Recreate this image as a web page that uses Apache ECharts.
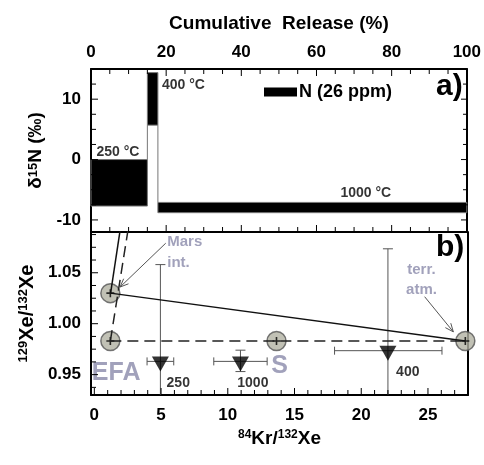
<!DOCTYPE html>
<html>
<head>
<meta charset="utf-8">
<script src="https://cdn.jsdelivr.net/npm/echarts@6/dist/echarts.min.js"></script>
<style>
  html, body { margin: 0; padding: 0; background: #fff; }
  #chart { width: 484px; height: 465px; }
</style>
</head>
<body>
<div id="chart"></div>
<script>
// ---- panel a: stepwise N release ----
const stepTemps = ['250 °C', '400 °C', '1000 °C'];
const releaseStart = [0, 15, 17.8];
const releaseEnd = [15, 17.8, 100];
const d15NLow = [-7.7, 5.7, -8.8];
const d15NHigh = [0, 14.4, -7.1];
// where the temperature labels sit (release %, d15N)
const tempLabelX = [1.6, 19.0, 66.5];
const tempLabelY = [1.1, 12.3, -5.6];

// ---- panel b: Kr/Xe vs 129Xe/132Xe ----
const stepNames = ['250', '1000', '400'];
const krXe = [4.95, 10.95, 22.0];
const krXeLo = [3.95, 8.95, 18.0];
const krXeHi = [5.95, 12.95, 26.05];
const xeRatio = [0.963, 0.963, 0.9735];
const xeRatioLo = [0.868, 0.953, 0.8735];
const xeRatioHi = [1.058, 0.974, 1.0735];
const stepLabelX = [5.45, 10.75, 22.65];
const stepLabelY = [0.9415, 0.9415, 0.952];

// end-members (circles)
const endNames = ['EFA high', 'EFA low', 'S', 'terr. atm.'];
const endKr = [1.2, 1.2, 13.65, 27.8];
const endXe = [1.030, 0.983, 0.983, 0.983];

// steep Mars-interior lines
const marsSolid = [[1.22, 1.030], [1.97, 1.095]];
const marsDashed = [[1.2, 0.983], [2.56, 1.095]];

// tick labels
const topTicks = [0, 20, 40, 60, 80, 100];
const d15NTicks = [-10, 0, 10];
const xeTicks = [0.95, 1.00, 1.05];
const krTicks = [0, 5, 10, 15, 20, 25];

const FONT = 'Liberation Sans, Arial, sans-serif';
const TXT2 = '#8a8aaa';

function range(a, b, s) {
  const out = [];
  for (let v = a; v <= b + 1e-9; v += s) out.push(+v.toFixed(4));
  return out;
}

// tick marks drawn as graphic lines, positions from the chart's own scales
const tickSpecs = [
  // [xAxisIndex, yAxisIndex, side, values, major step]
  [0, 0, 'top', range(0, 100, 5), 20],
  [0, 0, 'bottom', range(5, 95, 5), 20],
  [0, 0, 'left', range(-10, 12.5, 2.5), 10],
  [0, 0, 'right', range(-10, 12.5, 2.5), 10],
  [2, 2, 'bottom', range(0, 27, 1), 5],
  [2, 2, 'left', range(0.9375, 1.0875, 0.0125), 0.05]
];
const gridBox = [
  { left: 91, top: 69, width: 377, height: 163 },
  { left: 91, top: 232, width: 377, height: 163 }
];

const chart = echarts.init(document.getElementById('chart'));

const boxData = stepTemps.map((t, i) => [releaseStart[i], releaseEnd[i], d15NLow[i], d15NHigh[i]]);
const errData = stepNames.map((n, i) => [krXe[i], xeRatio[i], krXeLo[i], krXeHi[i], xeRatioLo[i], xeRatioHi[i]]);
const endData = endNames.map((n, i) => [endKr[i], endXe[i]]);

const lineStyle = { show: true, onZero: false, lineStyle: { color: '#000', width: 2 } };
const labelStyle = { color: '#000', fontWeight: 'bold', fontSize: 17, fontFamily: FONT };
const noTick = { show: false };

const option = {
  animation: false,
  backgroundColor: '#fff',
  textStyle: { fontFamily: FONT },
  grid: gridBox,
  legend: {
    data: ['N (26 ppm)'],
    left: 259, top: 78,
    icon: 'rect', itemWidth: 33, itemHeight: 9,
    textStyle: { fontSize: 18, fontWeight: 'bold', color: '#000', fontFamily: FONT, padding: [0, 0, 0, -3] }
  },
  xAxis: [
    {
      gridIndex: 0, type: 'value', position: 'top', min: 0, max: 100,
      name: 'Cumulative  Release (%)', nameLocation: 'middle', nameGap: 36,
      nameTextStyle: { fontSize: 19, fontWeight: 'bold', color: '#000' },
      axisLine: lineStyle, axisTick: noTick,
      axisLabel: Object.assign({ customValues: topTicks, margin: 8 }, labelStyle),
      splitLine: { show: false }
    },
    {
      gridIndex: 0, type: 'value', position: 'bottom', min: 0, max: 100,
      axisLine: lineStyle, axisTick: noTick,
      axisLabel: { show: false }, splitLine: { show: false }
    },
    {
      gridIndex: 1, type: 'value', position: 'bottom', min: -0.25, max: 28,
      name: '{s|84}{a|Kr/}{s|132}{a|Xe}', nameLocation: 'middle', nameGap: 34,
      nameTextStyle: {
        rich: {
          a: { fontSize: 19, fontWeight: 'bold', color: '#000', fontFamily: FONT },
          s: { fontSize: 12, fontWeight: 'bold', color: '#000', fontFamily: FONT, verticalAlign: 'top' }
        }
      },
      axisLine: lineStyle, axisTick: noTick,
      axisLabel: Object.assign({ customValues: krTicks, margin: 12 }, labelStyle),
      splitLine: { show: false }
    }
  ],
  yAxis: [
    {
      gridIndex: 0, type: 'value', position: 'left', min: -12, max: 15,
      name: '{a|δ}{s|15}{a|N (‰)}', nameLocation: 'middle', nameGap: 42,
      nameTextStyle: {
        rich: {
          a: { fontSize: 19, fontWeight: 'bold', color: '#000', fontFamily: FONT },
          s: { fontSize: 13, fontWeight: 'bold', color: '#000', fontFamily: FONT, verticalAlign: 'top' }
        }
      },
      axisLine: lineStyle, axisTick: noTick,
      axisLabel: Object.assign({ customValues: d15NTicks, margin: 10 }, labelStyle),
      splitLine: { show: false }
    },
    {
      gridIndex: 0, type: 'value', position: 'right', min: -12, max: 15,
      axisLine: lineStyle, axisTick: noTick,
      axisLabel: { show: false }, splitLine: { show: false }
    },
    {
      gridIndex: 1, type: 'value', position: 'left', min: 0.93, max: 1.09,
      name: '{s|129}{a|Xe/}{s|132}{a|Xe}', nameLocation: 'middle', nameGap: 52,
      nameTextStyle: {
        rich: {
          a: { fontSize: 20, fontWeight: 'bold', color: '#000', fontFamily: FONT },
          s: { fontSize: 13, fontWeight: 'bold', color: '#000', fontFamily: FONT, verticalAlign: 'top' }
        }
      },
      axisLine: lineStyle, axisTick: noTick,
      axisLabel: Object.assign({ customValues: xeTicks, margin: 10, formatter: v => v.toFixed(2) }, labelStyle),
      splitLine: { show: false }
    },
    {
      gridIndex: 1, type: 'value', position: 'right', min: 0.93, max: 1.09,
      axisLine: lineStyle, axisTick: noTick,
      axisLabel: { show: false }, splitLine: { show: false }
    }
  ],
  graphic: [
    { type: 'text', left: 436, top: 72, style: { text: 'a)', fontSize: 30, fontWeight: 'bold', fill: '#000', fontFamily: FONT } },
    { type: 'text', left: 436, top: 233, style: { text: 'b)', fontSize: 30, fontWeight: 'bold', fill: '#000', fontFamily: FONT } }
  ],
  series: [
    // ---------- panel a ----------
    {
      name: 'N (26 ppm)', type: 'custom', xAxisIndex: 0, yAxisIndex: 0,
      itemStyle: { color: '#000' },
      data: boxData,
      renderItem: function (params, api) {
        const i = params.dataIndex;
        const p0 = api.coord([api.value(0), api.value(3)]);
        const p1 = api.coord([api.value(1), api.value(2)]);
        const children = [{
          type: 'rect',
          shape: { x: p0[0], y: p0[1], width: p1[0] - p0[0], height: p1[1] - p0[1] },
          style: { fill: '#000', stroke: '#777', lineWidth: 1 }
        }];
        // thin connector to the next step
        if (i < boxData.length - 1) {
          const nx = boxData[i + 1];
          const up = nx[2] > boxData[i][3];
          const yFrom = up ? boxData[i][3] : boxData[i][2];
          const yTo = up ? nx[2] : nx[3];
          const a = api.coord([boxData[i][1], yFrom]);
          const b = api.coord([boxData[i][1], yTo]);
          children.push({
            type: 'line',
            shape: { x1: a[0], y1: a[1], x2: b[0], y2: b[1] },
            style: { stroke: '#777', lineWidth: 1 }
          });
        }
        return { type: 'group', children: children };
      }
    },
    {
      type: 'scatter', xAxisIndex: 0, yAxisIndex: 0, symbolSize: 1,
      itemStyle: { color: 'rgba(0,0,0,0)' }, silent: true,
      data: stepTemps.map((t, i) => ({ value: [tempLabelX[i], tempLabelY[i]], name: t })),
      label: {
        show: true, position: [0, 0], align: 'left', verticalAlign: 'middle',
        formatter: p => p.name, fontSize: 14, fontWeight: 'bold', color: '#000', fontFamily: FONT
      }
    },
    // ---------- panel b ----------
    {
      type: 'line', xAxisIndex: 2, yAxisIndex: 2, symbol: 'none',
      data: [endData[0], endData[3]],
      lineStyle: { color: '#111', width: 1.5 }
    },
    {
      type: 'line', xAxisIndex: 2, yAxisIndex: 2, symbol: 'none',
      data: [endData[1], endData[3]],
      lineStyle: { color: '#222', width: 1.5, type: [11, 6] }
    },
    {
      type: 'line', xAxisIndex: 2, yAxisIndex: 2, symbol: 'none', clip: true,
      data: marsSolid,
      lineStyle: { color: '#111', width: 1.5 }
    },
    {
      type: 'line', xAxisIndex: 2, yAxisIndex: 2, symbol: 'none', clip: true,
      data: marsDashed,
      lineStyle: { color: '#222', width: 1.5, type: [11, 6] }
    },
    {
      type: 'custom', xAxisIndex: 2, yAxisIndex: 2, clip: true,
      data: errData,
      renderItem: function (params, api) {
        const xl = api.coord([api.value(2), api.value(1)]);
        const xh = api.coord([api.value(3), api.value(1)]);
        const yl = api.coord([api.value(0), api.value(4)]);
        const yh = api.coord([api.value(0), api.value(5)]);
        const st = { stroke: '#555', lineWidth: 1 };
        const ln = (x1, y1, x2, y2) => ({ type: 'line', shape: { x1, y1, x2, y2 }, style: st });
        return {
          type: 'group',
          children: [
            ln(xl[0], xl[1], xh[0], xh[1]),
            ln(xl[0], xl[1] - 4, xl[0], xl[1] + 4),
            ln(xh[0], xh[1] - 4, xh[0], xh[1] + 4),
            ln(yl[0], yl[1], yh[0], yh[1]),
            ln(yh[0] - 5, yh[1], yh[0] + 5, yh[1]),
            ln(yl[0] - 5, yl[1], yl[0] + 5, yl[1])
          ]
        };
      }
    },
    {
      type: 'scatter', xAxisIndex: 2, yAxisIndex: 2,
      symbol: 'path://M0,0L20,0L10,17Z', symbolSize: [17, 15], symbolOffset: [0, 2.5],
      itemStyle: { color: '#000' },
      data: krXe.map((x, i) => [x, xeRatio[i]])
    },
    {
      type: 'scatter', xAxisIndex: 2, yAxisIndex: 2, symbol: 'circle', symbolSize: 19,
      itemStyle: { color: '#b2b2a2', borderColor: '#555', borderWidth: 1.5 },
      data: endData
    },
    {
      type: 'scatter', xAxisIndex: 2, yAxisIndex: 2,
      symbol: 'path://M4,0H6V4H10V6H6V10H4V6H0V4H4Z', symbolSize: 8,
      itemStyle: { color: '#000' },
      data: endData
    },
    // arrows to Mars int. and terr. atm.
    {
      type: 'custom', xAxisIndex: 2, yAxisIndex: 2,
      data: [[5.35, 1.079, 1.93, 1.036], [24.75, 1.0265, 26.9, 0.992]],
      renderItem: function (params, api) {
        const a = api.coord([api.value(0), api.value(1)]);
        const b = api.coord([api.value(2), api.value(3)]);
        const ang = Math.atan2(b[1] - a[1], b[0] - a[0]);
        const L = 9, w = 0.4;
        const st = { stroke: '#555', lineWidth: 1 };
        return {
          type: 'group',
          children: [
            { type: 'line', shape: { x1: a[0], y1: a[1], x2: b[0], y2: b[1] }, style: st },
            { type: 'line', shape: { x1: b[0], y1: b[1], x2: b[0] - L * Math.cos(ang - w), y2: b[1] - L * Math.sin(ang - w) }, style: st },
            { type: 'line', shape: { x1: b[0], y1: b[1], x2: b[0] - L * Math.cos(ang + w), y2: b[1] - L * Math.sin(ang + w) }, style: st }
          ]
        };
      }
    },
    // text annotations in panel b
    {
      type: 'scatter', xAxisIndex: 2, yAxisIndex: 2, symbolSize: 1,
      itemStyle: { color: 'rgba(0,0,0,0)' }, silent: true,
      data: [
        { value: [5.5, 1.0700], name: 'Mars\nint.', label: { color: TXT2, fontSize: 15, lineHeight: 21 } },
        { value: [24.55, 1.0427], name: 'terr.\natm.', label: { color: TXT2, fontSize: 15, lineHeight: 20, align: 'center' } },
        { value: [-0.15, 0.951], name: 'EFA', label: { color: TXT2, fontSize: 25 } },
        { value: [13.3, 0.9578], name: 'S', label: { color: TXT2, fontSize: 25 } }
      ].concat(stepNames.map((n, i) => ({ value: [stepLabelX[i], stepLabelY[i]], name: n }))),
      label: {
        show: true, position: [0, 0], align: 'left', verticalAlign: 'middle',
        formatter: p => p.name, fontSize: 14, fontWeight: 'bold', color: '#000', fontFamily: FONT
      }
    }
  ]
};

chart.setOption(option);

// tick marks: placed with convertToPixel so they follow the axes' scales
const tickLines = [];
tickSpecs.forEach(([xi, yi, side, values, majorStep]) => {
  const g = gridBox[xi === 0 ? 0 : 1];
  values.forEach(v => {
    const major = Math.abs(v / majorStep - Math.round(v / majorStep)) < 1e-6;
    const len = major ? 7 : 5;
    let shape;
    if (side === 'top' || side === 'bottom') {
      const x = chart.convertToPixel({ xAxisIndex: xi }, v);
      const y0 = side === 'top' ? g.top : g.top + g.height;
      shape = { x1: x, y1: y0, x2: x, y2: side === 'top' ? y0 + len : y0 - len };
    } else {
      const y = chart.convertToPixel({ yAxisIndex: yi }, v);
      const x0 = side === 'left' ? g.left : g.left + g.width;
      shape = { x1: x0, y1: y, x2: side === 'left' ? x0 + len : x0 - len, y2: y };
    }
    tickLines.push({ type: 'line', shape: shape, z: 10, silent: true, style: { stroke: '#000', lineWidth: 1 } });
  });
});
chart.setOption({ graphic: option.graphic.concat(tickLines) });
</script>
</body>
</html>
